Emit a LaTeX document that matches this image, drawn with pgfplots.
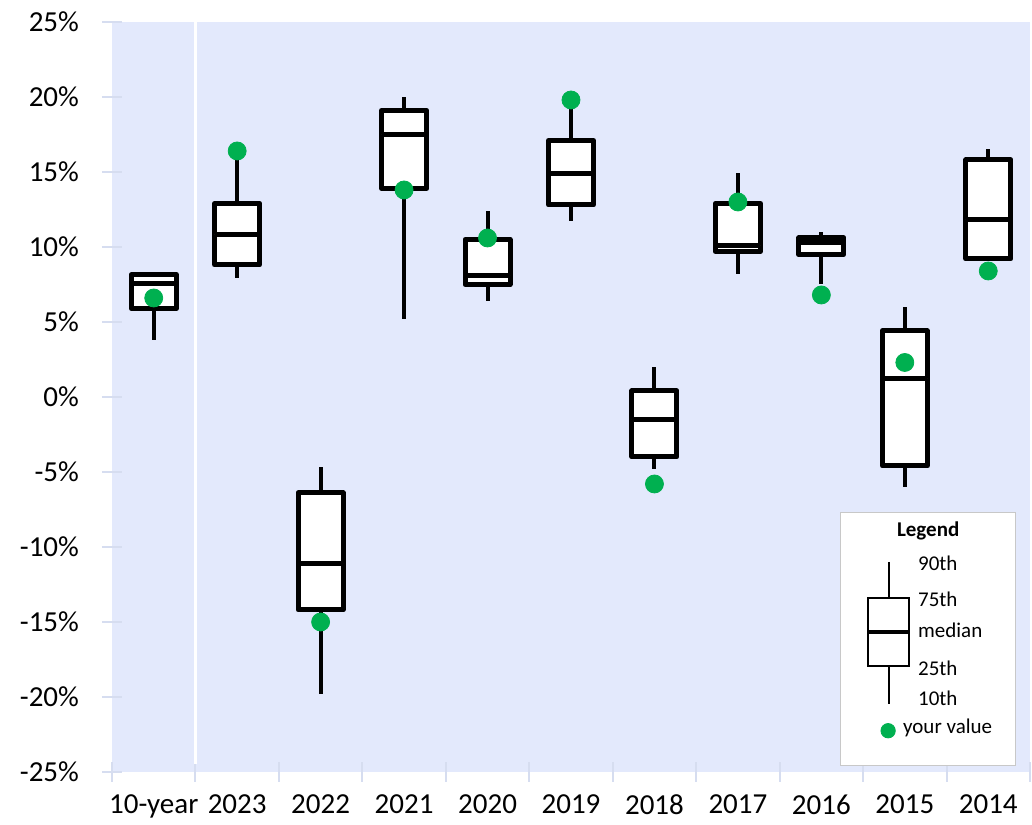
\documentclass[border=0pt]{standalone}
\usepackage{pgfplots}
\pgfplotsset{compat=1.18}
\usepgfplotslibrary{statistics}
\usepackage{fontspec}
\setmainfont{Carlito}
\definecolor{bgblue}{HTML}{E3E9FC}
\definecolor{dotgreen}{HTML}{00B050}
\definecolor{tickgray}{HTML}{D6DDF0}
\definecolor{legborder}{HTML}{C8C8C8}

\pgfplotsset{
  yrbox/.style={black, fill=white, line width=2.5pt, line join=round,
    boxplot/draw direction=y,
    boxplot/box extend=0.54, boxplot/whisker extend=0,
    boxplot/every whisker/.style={line width=2pt},
    boxplot/every median/.style={line width=2.5pt}},
}

\begin{document}
\begin{tikzpicture}
\begin{axis}[
  scale only axis, width=459pt, height=375pt,
  xmin=-0.5, xmax=10.5, ymin=-25, ymax=25,
  axis background/.style={fill=bgblue},
  axis line style={draw=none},
  xtick pos=bottom, ytick pos=left,
  ytick={-25,-20,...,25},
  yticklabel={\pgfmathprintnumber{\tick}\%},
  yticklabel style={xshift=-8pt},
  xtick={-0.5,0.5,1.5,2.5,3.5,4.5,5.5,6.5,7.5,8.5,9.5,10.5},
  xticklabels={},
  extra x ticks={0,1,2,3,4,5,6,7,8,9,10},
  extra x tick labels={10-year,2023,2022,2021,2020,2019,2018,2017,2016,2015,2014},
  extra x tick style={major tick length=0pt, tick style={draw=none},
    xticklabel style={yshift=-8pt}},
  tick align=center, major tick length=10pt,
  tick style={draw=tickgray, line width=1pt},
  ticklabel style={font=\fontsize{14.5}{17}\selectfont},
  /pgf/number format/assume math mode=true,
]
% separator between 10-year and annual boxes
\addplot[white, line width=1.5pt] coordinates {(0.5,25) (0.5,-24.5)};

% boxes: 10th, 25th, median, 75th, 90th percentiles
\addplot[yrbox, boxplot prepared={draw position=0, lower whisker=3.8, lower quartile=5.9, median=7.55, upper quartile=8.15, upper whisker=8.15}] coordinates {};
\addplot[yrbox, boxplot prepared={draw position=1, lower whisker=7.9, lower quartile=8.8, median=10.8, upper quartile=12.9, upper whisker=15.9}] coordinates {};
\addplot[yrbox, boxplot prepared={draw position=2, lower whisker=-19.8, lower quartile=-14.2, median=-11.1, upper quartile=-6.4, upper whisker=-4.7}] coordinates {};
\addplot[yrbox, boxplot prepared={draw position=3, lower whisker=5.2, lower quartile=13.9, median=17.5, upper quartile=19.1, upper whisker=20.0}] coordinates {};
\addplot[yrbox, boxplot prepared={draw position=4, lower whisker=6.4, lower quartile=7.5, median=8.1, upper quartile=10.5, upper whisker=12.4}] coordinates {};
\addplot[yrbox, boxplot prepared={draw position=5, lower whisker=11.7, lower quartile=12.8, median=14.9, upper quartile=17.1, upper whisker=19.5}] coordinates {};
\addplot[yrbox, boxplot prepared={draw position=6, lower whisker=-4.8, lower quartile=-4.0, median=-1.5, upper quartile=0.4, upper whisker=2.0}] coordinates {};
\addplot[yrbox, boxplot prepared={draw position=7, lower whisker=8.2, lower quartile=9.7, median=10.1, upper quartile=12.9, upper whisker=14.9}] coordinates {};
\addplot[yrbox, boxplot prepared={draw position=8, lower whisker=7.5, lower quartile=9.5, median=10.3, upper quartile=10.6, upper whisker=11.0}] coordinates {};
\addplot[yrbox, boxplot prepared={draw position=9, lower whisker=-6.0, lower quartile=-4.6, median=1.2, upper quartile=4.4, upper whisker=6.0}] coordinates {};
\addplot[yrbox, boxplot prepared={draw position=10, lower whisker=9.2, lower quartile=9.2, median=11.8, upper quartile=15.8, upper whisker=16.5}] coordinates {};

% your value
\addplot[only marks, mark=*, mark size=4.5pt, color=dotgreen] coordinates {
  (0,6.6) (1,16.4) (2,-15.0) (3,13.8) (4,10.6) (5,19.8)
  (6,-5.8) (7,13.0) (8,6.8) (9,2.3) (10,8.4)
};

% legend panel
\draw[legborder, fill=white, line width=0.5pt] (axis cs:8.23,-7.67) rectangle (axis cs:10.33,-24.6);
\node[font=\bfseries\fontsize{10.5}{12}\selectfont] at (axis cs:9.28,-8.95) {Legend};
\draw[black, line width=1.2pt] (axis cs:8.81,-11.0) -- (axis cs:8.81,-13.4);
\draw[black, line width=1.2pt] (axis cs:8.81,-17.93) -- (axis cs:8.81,-20.47);
\draw[black, line width=1.2pt] (axis cs:8.556,-13.4) rectangle (axis cs:9.047,-17.93);
\draw[black, line width=2.4pt] (axis cs:8.556,-15.67) -- (axis cs:9.047,-15.67);
\begin{scope}[every node/.style={anchor=west, inner sep=0pt, font=\fontsize{10.5}{12}\selectfont}]
\node at (axis cs:9.155,-11.1) {90th};
\node at (axis cs:9.155,-13.5) {75th};
\node at (axis cs:9.155,-15.55) {median};
\node at (axis cs:9.155,-18.1) {25th};
\node at (axis cs:9.155,-20.1) {10th};
\node at (axis cs:8.975,-22.05) {your value};
\end{scope}
\addplot[only marks, mark=*, mark size=3.6pt, color=dotgreen] coordinates {(8.80,-22.25)};

\coordinate (bl) at (rel axis cs:-0.122,-0.07);
\coordinate (tr) at (rel axis cs:1.0022,1.0293);
\end{axis}
\pgfresetboundingbox
\useasboundingbox (bl) rectangle (tr);
\end{tikzpicture}
\end{document}
